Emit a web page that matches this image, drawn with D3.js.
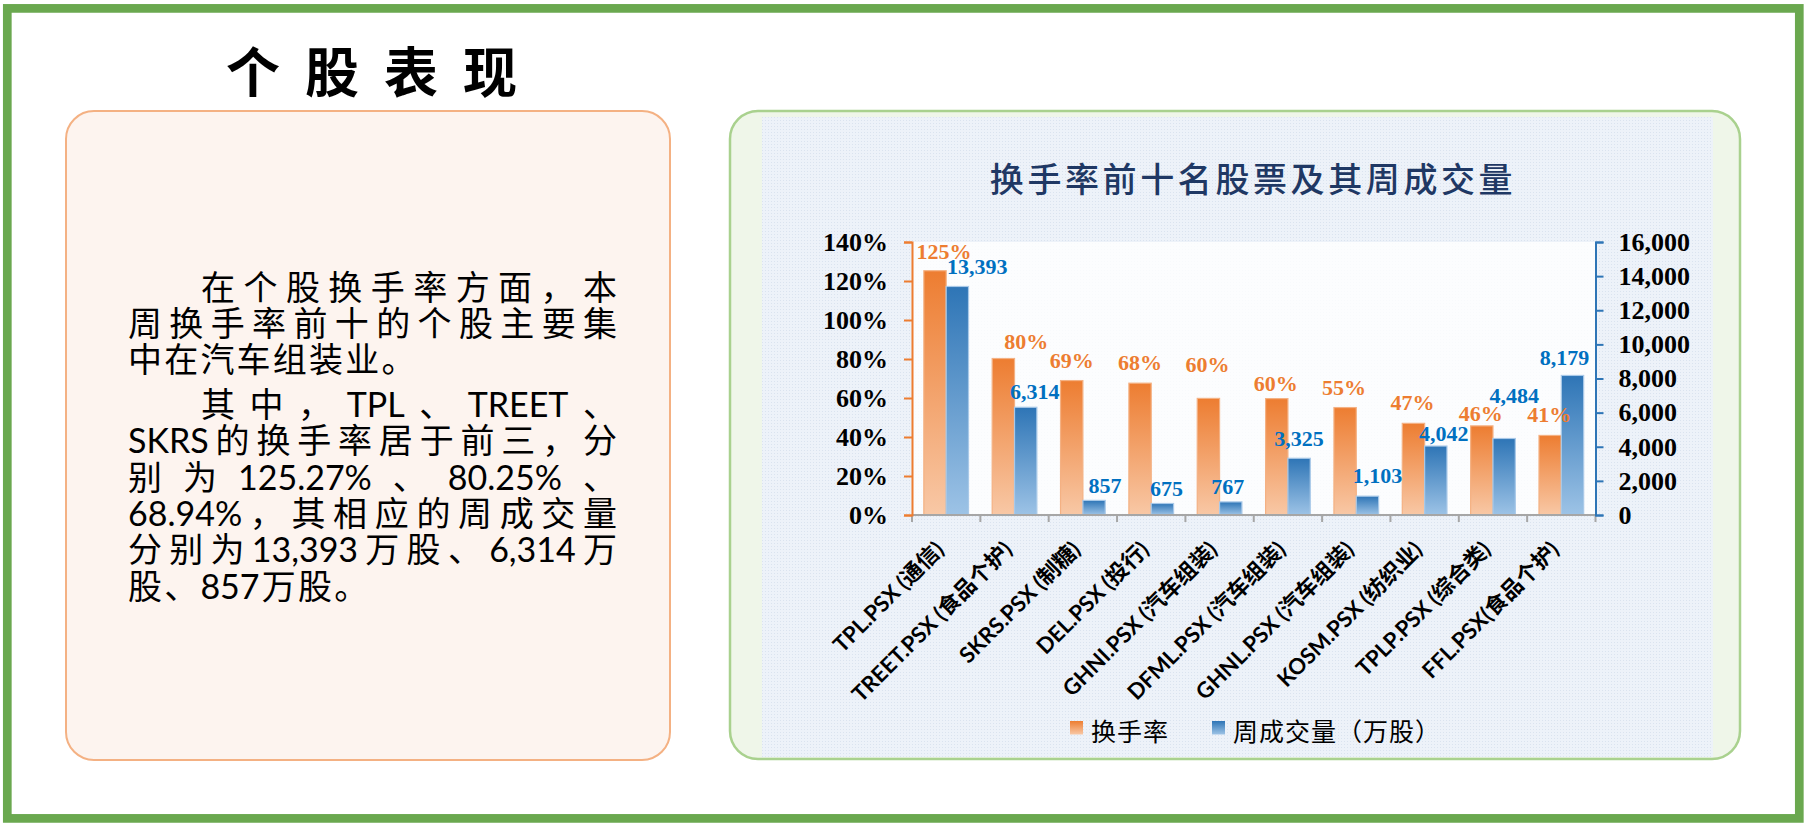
<!DOCTYPE html>
<html>
<head>
<meta charset="utf-8">
<script src="https://cdn.jsdelivr.net/npm/d3@7"></script>
<style>
  body { margin: 0; background: #fff; }
</style>
</head>
<body>
<div id="chart"></div>
<script>
// chart data
var stocks = ["TPL.PSX (通信)", "TREET.PSX (食品个护)", "SKRS.PSX (制糖)", "DEL.PSX (投行)", "GHNI.PSX (汽车组装)",
              "DFML.PSX (汽车组装)", "GHNL.PSX (汽车组装)", "KOSM.PSX (纺织业)", "TPLP.PSX (综合类)", "FFL.PSX(食品个护)"];
var turnover = [1.2527, 0.8025, 0.6894, 0.676, 0.598, 0.597, 0.551, 0.470, 0.457, 0.408];
var volume = [13393, 6314, 857, 675, 767, 3325, 1103, 4042, 4484, 8179];
var pctTicks = [0, 0.2, 0.4, 0.6, 0.8, 1.0, 1.2, 1.4];
var volTicks = [0, 2000, 4000, 6000, 8000, 10000, 12000, 14000, 16000];
var seriesNames = ["换手率", "周成交量（万股）"];
var chartTitle = "换手率前十名股票及其周成交量";
var pageTitle = "个股表现";
var paragraphs = [
  ["在个股换手率方面，本", "周换手率前十的个股主要集", "中在汽车组装业。"],
  ["其 中 ， TPL 、 TREET 、", "SKRS的换手率居于前三，分", "别 为 125.27% 、 80.25% 、",
   "68.94%，其相应的周成交量", "分别为13,393万股、6,314万", "股、 857万股。"]
];

// label nudges (layout only) [dx, dy]
var pctNudge = [[9,0],[23,2],[0,-1],[0,-1],[-1,-14],[-1,4],[-1,-1],[-1,-1],[-1,7],[-1,-1]];
var volNudge = [[20,0],[9,4],[11,5],[4,5],[-3,4],[0,0],[10,-1],[8,7],[10,-23],[-8,2]];

var W = 1810, H = 829;
var orange = "#ED7D31", blue = "#2E75B6", labelBlue = "#0070C0";
var cjk = "'Noto Sans CJK SC', sans-serif";
var serif = "'Liberation Serif', 'Times New Roman', serif";

var svg = d3.select("#chart").append("svg")
    .attr("width", W)
    .attr("height", H);

var defs = svg.append("defs");
var gO = defs.append("linearGradient").attr("id", "gO").attr("x1", 0).attr("y1", 0).attr("x2", 0).attr("y2", 1);
gO.append("stop").attr("offset", 0).attr("stop-color", "#ED7D31");
gO.append("stop").attr("offset", 1).attr("stop-color", "#F8C8A6");
var gB = defs.append("linearGradient").attr("id", "gB").attr("x1", 0).attr("y1", 0).attr("x2", 0).attr("y2", 1);
gB.append("stop").attr("offset", 0).attr("stop-color", "#2E75B6");
gB.append("stop").attr("offset", 1).attr("stop-color", "#9DC3E6");
var pat = defs.append("pattern").attr("id", "dots").attr("width", 3).attr("height", 3)
    .attr("patternUnits", "userSpaceOnUse");
pat.append("rect").attr("width", 3).attr("height", 3).attr("fill", "#EDF2F9");
pat.append("rect").attr("width", 1).attr("height", 1).attr("fill", "#DAE3EF");

// page frame and boxes
svg.append("rect").attr("x", 7.3).attr("y", 8.4).attr("width", 1792).attr("height", 810)
    .attr("fill", "#fff").attr("stroke", "#6AA84F").attr("stroke-width", 8.7);

svg.append("text")
    .attr("x", 226).attr("y", 93)
    .style("font-family", cjk).style("font-size", "54px").style("font-weight", 700)
    .style("letter-spacing", "25px")
    .text(pageTitle);

svg.append("rect").attr("x", 66).attr("y", 111).attr("width", 604).attr("height", 649).attr("rx", 28)
    .attr("fill", "#FDF4EF").attr("stroke", "#F4B183").attr("stroke-width", 2);

svg.append("rect").attr("x", 730).attr("y", 111).attr("width", 1010).attr("height", 648).attr("rx", 28)
    .attr("fill", "#EFF6E9").attr("stroke", "#A9D18E").attr("stroke-width", 2.5);

// left text, laid out token by token and justified
var textLeft = 128, textRight = 617, indent = 73, pitch = 36.3;
var paraTop = [299.5, 417];
var measure = svg.append("text").style("font-family", "Lato, " + cjk).style("font-size", "34px");
function tokWidth(t) { measure.text(t); return measure.node().getComputedTextLength(); }

paragraphs.forEach(function(lines, pi) {
    lines.forEach(function(line, li) {
        var toks = line.match(/[A-Za-z0-9.,%]+|[^\s]/g);
        var widths = toks.map(tokWidth);
        var x0 = li === 0 ? textLeft + indent : textLeft;
        var last = li === lines.length - 1;
        var sum = d3.sum(widths);
        var gap = last ? 2.2 : (textRight - x0 - sum) / (toks.length - 1);
        var t = svg.append("text")
            .attr("y", paraTop[pi] + li * pitch)
            .style("font-family", "Lato, " + cjk).style("font-size", "34px").attr("fill", "#000");
        var x = x0;
        toks.forEach(function(tok, i) {
            t.append("tspan").attr("x", x).text(tok);
            x += widths[i] + gap;
        });
    });
});
measure.remove();

// chart area
svg.append("rect").attr("x", 762).attr("y", 117).attr("width", 951).attr("height", 640)
    .attr("fill", "url(#dots)");

svg.append("text")
    .attr("x", 1253).attr("y", 192)
    .attr("text-anchor", "middle")
    .style("font-family", cjk).style("font-size", "34px").style("font-weight", 500)
    .style("letter-spacing", "3.6px")
    .attr("fill", "#1F3864")
    .text(chartTitle);

var plotL = 912, plotR = 1595.5, plotT = 242, plotB = 515;
svg.append("rect").attr("x", plotL).attr("y", plotT).attr("width", plotR - plotL).attr("height", plotB - plotT)
    .attr("fill", "#fff").attr("opacity", 0.8);

var x = d3.scaleBand().domain(stocks).range([plotL, plotR]).paddingInner(0).paddingOuter(0);
var xSub = d3.scaleBand().domain([0, 1]).range([0, x.bandwidth()]).paddingInner(0).paddingOuter(0.53);
var yL = d3.scaleLinear().domain([0, 1.4]).range([plotB, plotT]);
var yR = d3.scaleLinear().domain([0, 16000]).range([plotB, plotT]);

var rows = stocks.map(function(s, i) { return { name: s, pct: turnover[i], vol: volume[i], i: i }; });

var g = svg.append("g");
g.selectAll(".barO").data(rows).enter().append("rect")
    .attr("class", "barO")
    .attr("x", function(d) { return x(d.name) + xSub(0); })
    .attr("y", function(d) { return yL(d.pct); })
    .attr("width", xSub.bandwidth())
    .attr("height", function(d) { return plotB - yL(d.pct); })
    .attr("fill", "url(#gO)")
    .attr("stroke", "#F4B183").attr("stroke-width", 1.2);

g.selectAll(".barB").data(rows).enter().append("rect")
    .attr("class", "barB")
    .attr("x", function(d) { return x(d.name) + xSub(1); })
    .attr("y", function(d) { return yR(d.vol); })
    .attr("width", xSub.bandwidth())
    .attr("height", function(d) { return plotB - yR(d.vol); })
    .attr("fill", "url(#gB)")
    .attr("stroke", "#A9C9E8").attr("stroke-width", 1.2);

// data labels
g.selectAll(".lblO").data(rows).enter().append("text")
    .attr("class", "lblO")
    .attr("x", function(d) { return x(d.name) + xSub(0) + xSub.bandwidth() / 2 + pctNudge[d.i][0]; })
    .attr("y", function(d) { return yL(d.pct) - 12 + pctNudge[d.i][1]; })
    .attr("text-anchor", "middle")
    .style("font-family", serif).style("font-size", "22px").style("font-weight", 700)
    .attr("fill", orange)
    .text(function(d) { return d3.format(".0%")(d.pct); });

g.selectAll(".lblB").data(rows).enter().append("text")
    .attr("class", "lblB")
    .attr("x", function(d) { return x(d.name) + xSub(1) + xSub.bandwidth() / 2 + volNudge[d.i][0]; })
    .attr("y", function(d) { return yR(d.vol) - 12 + volNudge[d.i][1]; })
    .attr("text-anchor", "middle")
    .style("font-family", serif).style("font-size", "22px").style("font-weight", 700)
    .attr("fill", labelBlue)
    .text(function(d) { return d3.format(",")(d.vol); });

// x axis
var bounds = stocks.map(function(s) { return x(s); }).concat([plotR]);
svg.append("line").attr("x1", plotL).attr("x2", plotR).attr("y1", plotB).attr("y2", plotB)
    .attr("stroke", "#A6A6A6").attr("stroke-width", 2);
svg.selectAll(".xtick").data(bounds).enter().append("line")
    .attr("class", "xtick")
    .attr("x1", function(d) { return d; }).attr("x2", function(d) { return d; })
    .attr("y1", plotB).attr("y2", plotB + 7)
    .attr("stroke", "#A6A6A6").attr("stroke-width", 2);

svg.selectAll(".xlbl").data(stocks).enter().append("text")
    .attr("class", "xlbl")
    .attr("transform", function(d) { return "translate(" + (x(d) + x.bandwidth() / 2 - 1) + "," + 551 + ") rotate(-45)"; })
    .attr("text-anchor", "end")
    .style("font-family", "Lato, " + cjk).style("font-size", "22px").style("font-weight", 700)
    .attr("fill", "#000")
    .text(function(d) { return d; });

// y axes
var axL = svg.append("g")
    .attr("transform", "translate(" + plotL + ",0)")
    .call(d3.axisLeft(yL).tickValues(pctTicks).tickFormat(d3.format(".0%")).tickSize(8).tickPadding(16));
axL.selectAll("path,line").attr("stroke", orange).attr("stroke-width", 2);

var axR = svg.append("g")
    .attr("transform", "translate(" + plotR + ",0)")
    .call(d3.axisRight(yR).tickValues(volTicks).tickFormat(d3.format(",")).tickSize(8).tickPadding(15));
axR.selectAll("path,line").attr("stroke", blue).attr("stroke-width", 2);

svg.selectAll(".tick text")
    .style("font-family", serif).style("font-size", "26px").style("font-weight", 700)
    .attr("fill", "#000");

// legend
var legX = [1070, 1212], legFill = ["url(#gO)", "url(#gB)"];
var leg = svg.selectAll(".leg").data(seriesNames).enter().append("g")
    .attr("class", "leg")
    .attr("transform", function(d, i) { return "translate(" + legX[i] + ",0)"; });
leg.append("rect").attr("x", 0).attr("y", 721).attr("width", 13).attr("height", 13.5)
    .attr("fill", function(d, i) { return legFill[i]; });
leg.append("text").attr("x", 21).attr("y", 741)
    .style("font-family", cjk).style("font-size", "25px").style("letter-spacing", "1px")
    .attr("fill", "#000")
    .text(function(d) { return d; });
</script>
</body>
</html>
